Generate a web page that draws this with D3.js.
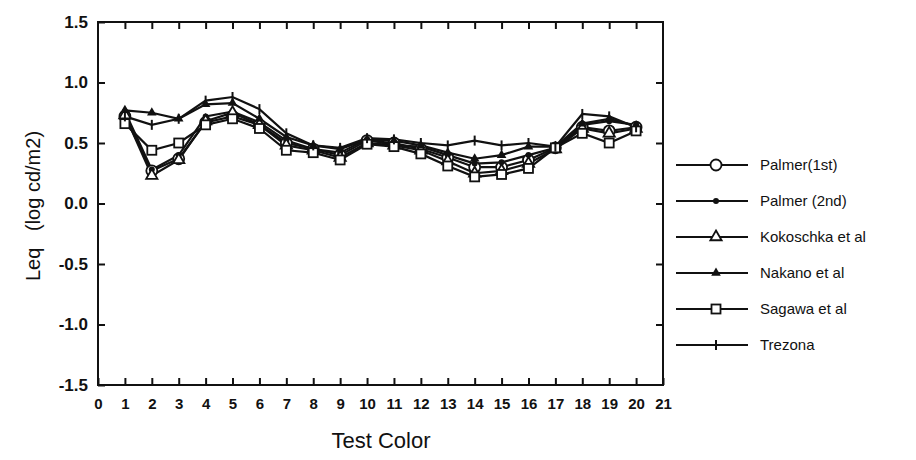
<!DOCTYPE html>
<html>
<head>
<meta charset="utf-8">
<script src="https://cdn.jsdelivr.net/npm/d3@7"></script>
<style>
  body { margin: 0; background: #fff; }
  svg text { font-family: "Liberation Sans", Arial, sans-serif; fill: #111; }
</style>
</head>
<body>
<div id="chart"></div>
<script>
// test colors 1..20
var testColors = [1,2,3,4,5,6,7,8,9,10,11,12,13,14,15,16,17,18,19,20];

var palmer1   = [0.72,0.27,0.37,0.67,0.72,0.65,0.50,0.45,0.40,0.52,0.50,0.45,0.38,0.30,0.30,0.36,0.46,0.63,0.60,0.63];
var palmer2   = [0.76,0.28,0.40,0.72,0.76,0.67,0.52,0.45,0.42,0.53,0.48,0.47,0.40,0.33,0.34,0.40,0.46,0.65,0.68,0.65];
var kokoschka = [0.73,0.23,0.36,0.68,0.75,0.65,0.48,0.44,0.38,0.50,0.48,0.44,0.35,0.25,0.27,0.33,0.45,0.62,0.58,0.62];
var nakano    = [0.77,0.75,0.70,0.82,0.83,0.70,0.55,0.48,0.45,0.53,0.52,0.48,0.42,0.37,0.40,0.47,0.47,0.66,0.70,0.64];
var sagawa    = [0.66,0.44,0.50,0.65,0.70,0.62,0.44,0.42,0.36,0.49,0.47,0.41,0.31,0.22,0.24,0.29,0.46,0.58,0.50,0.60];
var trezona   = [0.72,0.65,0.70,0.85,0.88,0.78,0.58,0.48,0.46,0.54,0.53,0.50,0.48,0.52,0.48,0.50,0.47,0.74,0.72,0.63];

var seriesNames = ["Palmer(1st)", "Palmer (2nd)", "Kokoschka et al", "Nakano et al", "Sagawa et al", "Trezona"];
var seriesValues = [palmer1, palmer2, kokoschka, nakano, sagawa, trezona];
var seriesMarkers = ["circle", "dot", "triangleOpen", "triangleFilled", "square", "tick"];

var xTicks = d3.range(0, 22);
var yTicks = [1.5, 1.0, 0.5, 0.0, -0.5, -1.0, -1.5];

var margin = {top: 22, left: 98},
    width = 565,
    height = 363;

var svg = d3.select("#chart")
  .append("svg")
  .attr("width", 916)
  .attr("height", 460);

var g = svg.append("g")
  .attr("transform", "translate(" + margin.left + "," + margin.top + ")");

var x = d3.scaleLinear().domain([0, 21]).range([0, width]);
var y = d3.scaleLinear().domain([-1.5, 1.5]).range([height, 0]);

// frame
g.append("rect")
  .attr("width", width).attr("height", height)
  .attr("fill", "none").attr("stroke", "#111").attr("stroke-width", 2);

// axes with inward ticks
var tickStyle = function(sel) {
  sel.select(".domain").remove();
  sel.selectAll(".tick line").attr("stroke", "#111").attr("stroke-width", 2);
};

g.append("g")
  .attr("transform", "translate(0," + height + ")")
  .call(d3.axisBottom(x).tickValues(xTicks).tickSize(-7).tickPadding(13).tickFormat(d3.format("d")))
  .call(tickStyle)
  .selectAll("text").style("font-size", "15px").style("font-weight", "bold").attr("fill", "#111");

g.append("g")
  .call(d3.axisTop(x).tickValues(xTicks.slice(1, 21)).tickSize(-7).tickFormat(""))
  .call(tickStyle);

g.append("g")
  .call(d3.axisLeft(y).tickValues(yTicks).tickSize(-7).tickPadding(10)
    .tickFormat(function(d) { return d.toFixed(1); }))
  .call(tickStyle)
  .selectAll("text").style("font-size", "17px").style("font-weight", "bold").attr("fill", "#111");

g.append("g")
  .attr("transform", "translate(" + width + ",0)")
  .call(d3.axisRight(y).tickValues(yTicks.slice(1, 6)).tickSize(-7).tickFormat(""))
  .call(tickStyle);

// axis titles
svg.append("text")
  .attr("x", 381).attr("y", 448)
  .attr("text-anchor", "middle")
  .style("font-size", "22px")
  .text("Test Color");

svg.append("text")
  .attr("transform", "translate(40,206) rotate(-90)")
  .attr("text-anchor", "middle")
  .style("font-size", "20px")
  .style("white-space", "pre")
  .text("Leq   (log cd/m2)");

// markers
function drawMarker(sel, type) {
  if (type === "circle") {
    sel.append("circle").attr("r", 5.5).attr("fill", "#fff").attr("stroke", "#111").attr("stroke-width", 1.8);
  } else if (type === "dot") {
    sel.append("circle").attr("r", 3).attr("fill", "#111");
  } else if (type === "triangleOpen") {
    sel.append("path").attr("d", d3.symbol(d3.symbolTriangle, 55)).attr("fill", "#fff").attr("stroke", "#111").attr("stroke-width", 1.8);
  } else if (type === "triangleFilled") {
    sel.append("path").attr("d", d3.symbol(d3.symbolTriangle, 40)).attr("fill", "#111");
  } else if (type === "square") {
    sel.append("rect").attr("x", -4.5).attr("y", -4.5).attr("width", 9).attr("height", 9)
      .attr("fill", "#fff").attr("stroke", "#111").attr("stroke-width", 1.8);
  } else if (type === "tick") {
    sel.append("line").attr("y1", -5).attr("y2", 5).attr("stroke", "#111").attr("stroke-width", 2);
  }
}

var line = d3.line()
  .x(function(d, i) { return x(testColors[i]); })
  .y(function(d) { return y(d); });

seriesValues.forEach(function(vals, s) {
  g.append("path")
    .datum(vals)
    .attr("fill", "none")
    .attr("stroke", "#111")
    .attr("stroke-width", 2.2)
    .attr("d", line);
});

seriesValues.forEach(function(vals, s) {
  g.selectAll(".m" + s)
    .data(vals)
    .enter().append("g")
    .attr("class", "m" + s)
    .attr("transform", function(d, i) { return "translate(" + x(testColors[i]) + "," + y(d) + ")"; })
    .each(function() { drawMarker(d3.select(this), seriesMarkers[s]); });
});

// legend
var legend = svg.append("g").attr("transform", "translate(676,165)");
seriesNames.forEach(function(name, i) {
  var row = legend.append("g").attr("transform", "translate(0," + (i * 36) + ")");
  row.append("line").attr("x1", 0).attr("x2", 72).attr("stroke", "#111").attr("stroke-width", 2);
  drawMarker(row.append("g").attr("transform", "translate(40,0)"), seriesMarkers[i]);
  row.append("text")
    .attr("x", 84).attr("y", 5)
    .style("font-size", "15px")
    .text(name);
});
</script>
</body>
</html>
